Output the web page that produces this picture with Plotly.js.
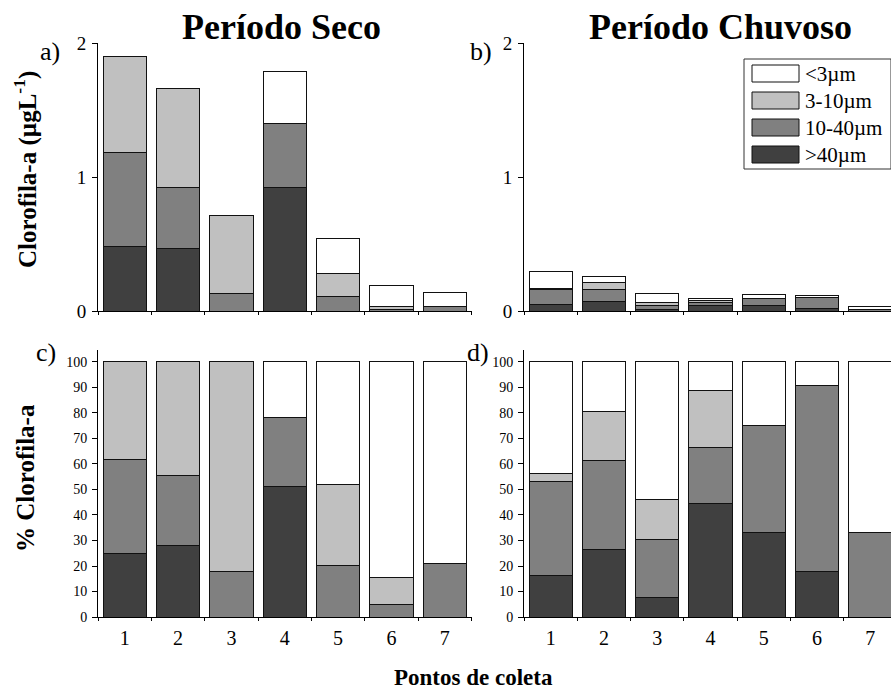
<!DOCTYPE html>
<html><head><meta charset="utf-8">
<script src="https://cdn.plot.ly/plotly-3.0.1.min.js"></script>
<style>html,body{margin:0;padding:0;overflow:hidden;background:#fff}</style>
</head><body><div id="chart" style="width:900px;height:690px"></div>
<script>
// ---- data ----
const points = ['1','2','3','4','5','6','7'];
const sizeClasses = ['>40µm','10-40µm','3-10µm','<3µm'];   // stacking order, bottom -> top
const classColors = ['#404040','#808080','#c0c0c0','#ffffff'];

// Dry season, chlorophyll-a (µg/L)
const secoGt40  = [0.48,0.47,0,0.92,0,0,0];
const seco10_40 = [0.70,0.45,0.13,0.48,0.11,0.01,0.03];
const seco3_10  = [0.72,0.74,0.58,0,0.17,0.02,0];
const secoLt3   = [0,0,0,0.39,0.26,0.16,0.11];
// Rainy season, chlorophyll-a (µg/L)
const chuvGt40  = [0.049,0.070,0.010,0.040,0.040,0.020,0];
const chuv10_40 = [0.109,0.090,0.030,0.020,0.050,0.082,0.010];
const chuv3_10  = [0.010,0.050,0.020,0.020,0,0,0];
const chuvLt3   = [0.130,0.051,0.071,0.010,0.030,0.010,0.020];
// Dry season, % chlorophyll-a
const pSecoGt40  = [24.9,28.0,0,51.2,0,0,0];
const pSeco10_40 = [37.0,27.3,18.0,26.9,20.1,4.9,21.1];
const pSeco3_10  = [38.1,44.7,82.0,0,31.7,10.6,0];
const pSecoLt3   = [0,0,0,21.9,48.2,84.5,78.9];
// Rainy season, % chlorophyll-a
const pChuvGt40  = [16.3,26.6,7.6,44.4,33.2,17.8,0];
const pChuv10_40 = [36.9,34.7,22.9,22.2,41.8,73.0,33.2];
const pChuv3_10  = [3.2,19.4,15.4,22.3,0,0,0];
const pChuvLt3   = [43.6,19.3,54.1,11.1,25.0,9.2,66.8];

const W = 900, H = 690;
const FONT = 'Liberation Serif';
const px = v => v / W;
const py = v => 1 - v / H;

const panels = [
  {ax:'', series:[secoGt40,seco10_40,seco3_10,secoLt3]},
  {ax:'2', series:[chuvGt40,chuv10_40,chuv3_10,chuvLt3]},
  {ax:'3', series:[pSecoGt40,pSeco10_40,pSeco3_10,pSecoLt3]},
  {ax:'4', series:[pChuvGt40,pChuv10_40,pChuv3_10,pChuvLt3]}
];
const traces = [];
panels.forEach(p => {
  p.series.forEach((vals, i) => {
    traces.push({
      type:'bar', x: points, y: vals, name: sizeClasses[i],
      xaxis:'x'+p.ax, yaxis:'y'+p.ax, showlegend:false, hoverinfo:'y',
      marker:{color: classColors[i], line:{color:'#111', width:1}}
    });
  });
});

function xAx(d0, d1, anchor, labels) {
  return {domain:[px(d0), px(d1)], anchor: anchor, type:'category', range:[-0.5,6.5],
    showline:true, linecolor:'#000', linewidth:1, ticks:'outside', tickson:'boundaries',
    ticklen:3, tickcolor:'#000', showgrid:false, zeroline:false, showticklabels: labels,
    tickfont:{family:FONT, size:20, color:'#000'}, ticklabelstandoff: 3, fixedrange:true};
}
function yAx(top, bottom, anchor, range, tv, fs) {
  return {domain:[py(bottom), py(top)], anchor: anchor, range: range, tickvals: tv,
    showline:true, linecolor:'#000', linewidth:1, ticks:'outside', ticklen:5, tickcolor:'#000',
    showgrid:false, zeroline:false, tickfont:{family:FONT, size:fs, color:'#000'},
    ticklabelstandoff: 2, fixedrange:true};
}
const pctTicks = [0,10,20,30,40,50,60,70,80,90,100];

const ann = (text, x, y, size, bold, extra) => Object.assign({
  text: bold ? '<b>'+text+'</b>' : text, xref:'paper', yref:'paper', x: px(x), y: py(y),
  showarrow:false, font:{family:FONT, size:size, color:'#000'}, xanchor:'center', yanchor:'middle'
}, extra || {});

const annotations = [
  ann('Período Seco', 281, 27, 36, true),
  ann('Período Chuvoso', 720, 27, 36, true),
  ann('a)', 50, 51, 26, false),
  ann('b)', 481, 51, 26, false),
  ann('c)', 46, 352, 26, false),
  ann('d)', 478, 352, 26, false),
  ann('Clorofila-a (µgL<sup>-1</sup>)', 25, 170, 25, true, {textangle:-90}),
  ann('% Clorofila-a', 25, 478, 25, true, {textangle:-90}),
  ann('Pontos de coleta', 474, 677, 23, true)
];

// legend (top -> bottom: <3, 3-10, 10-40, >40)
const shapes = [{type:'rect', xref:'paper', yref:'paper', x0:px(744), x1:px(891), y0:py(169), y1:py(59),
  line:{color:'#333', width:1}, fillcolor:'#fff'}];
const rowTops = [65, 92, 119, 146];
for (let r = 0; r < 4; r++) {
  const ci = 3 - r;
  shapes.push({type:'rect', xref:'paper', yref:'paper', x0:px(752), x1:px(799),
    y0:py(rowTops[r]+17), y1:py(rowTops[r]), fillcolor: classColors[ci], line:{color:'#111', width:1}});
  annotations.push(ann(sizeClasses[ci], 803, rowTops[r]+9, 21, false, {xanchor:'left'}));
}

const layout = {
  width: W, height: H, margin:{l:0,r:0,t:0,b:0}, paper_bgcolor:'#fff', plot_bgcolor:'rgba(0,0,0,0)',
  font:{family:FONT, color:'#000'},
  barmode:'stack', bargap:0.19, showlegend:false,
  xaxis:  xAx(98, 471.5, 'y', false),
  xaxis2: xAx(524, 897, 'y2', false),
  xaxis3: xAx(98, 471.5, 'y3', true),
  xaxis4: xAx(524, 897, 'y4', true),
  yaxis:  yAx(43, 311, 'x', [0,2], [0,1,2], 19),
  yaxis2: yAx(43, 311, 'x2', [0,2], [0,1,2], 19),
  yaxis3: yAx(350, 617, 'x3', [0,104.7], pctTicks, 14),
  yaxis4: yAx(350, 617, 'x4', [0,104.7], pctTicks, 14),
  annotations: annotations, shapes: shapes
};
Plotly.newPlot('chart', traces, layout, {displayModeBar:false, staticPlot:true});
</script></body></html>
